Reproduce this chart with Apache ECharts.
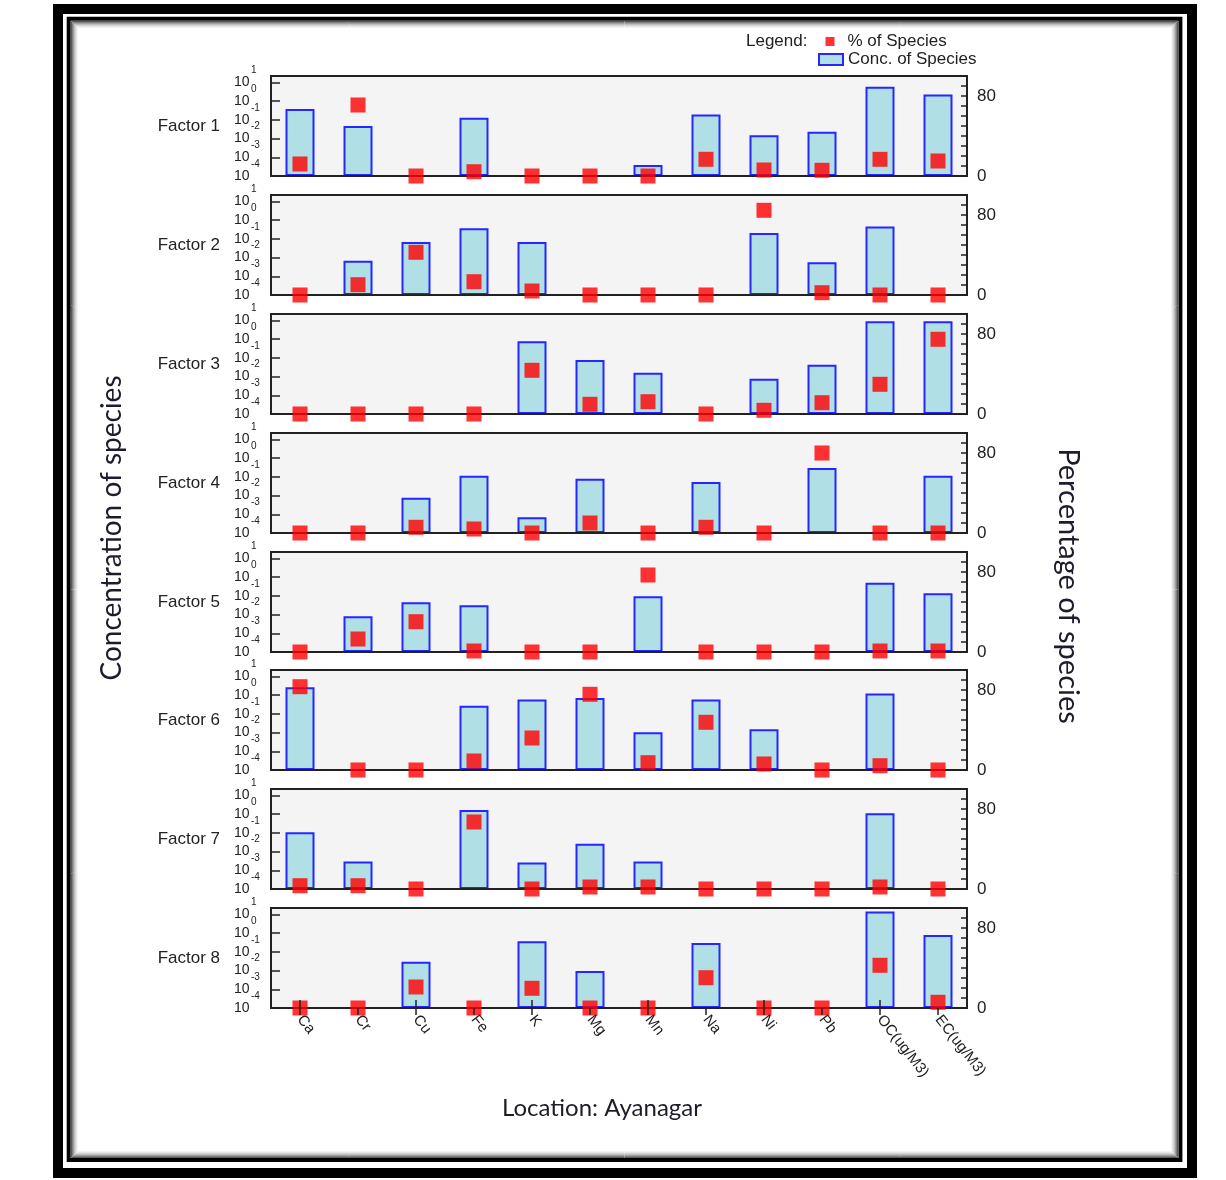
<!DOCTYPE html>
<html><head><meta charset="utf-8">
<script src="https://cdn.jsdelivr.net/npm/echarts@6/dist/echarts.min.js"></script>
<style>html,body{margin:0;padding:0;background:#fff}#c{width:1226px;height:1180px}</style>
</head><body><div id="c"></div>
<script>
// ---- data ----
const categories = ['Ca','Cr','Cu','Fe','K','Mg','Mn','Na','Ni','Pb','OC(ug/M3)','EC(ug/M3)'];
const factorNames = ['Factor 1','Factor 2','Factor 3','Factor 4','Factor 5','Factor 6','Factor 7','Factor 8'];
// Conc. of Species (null = no bar)
const conc1 = [0.39, 0.048, null, 0.13, null, null, 0.00039, 0.195, 0.015, 0.023, 5.9, 2.3];
const conc2 = [null, 0.0069, 0.069, 0.37, 0.069, null, null, null, 0.21, 0.0056, 0.46, null];
const conc3 = [null, null, null, null, 0.78, 0.078, 0.016, null, 0.0078, 0.043, 9.2, 9.2];
const conc4 = [null, null, 0.0078, 0.117, 0.00069, 0.081, null, 0.054, null, 0.30, null, 0.117];
const conc5 = [null, 0.0081, 0.046, 0.032, null, null, 0.095, null, null, null, 0.51, 0.14];
const conc6 = [2.7, null, null, 0.27, 0.59, 0.72, 0.0105, 0.59, 0.015, null, 1.23, null];
const conc7 = [0.11, 0.003, null, 1.7, 0.0026, 0.026, 0.003, null, null, null, 1.13, null];
const conc8 = [null, null, 0.030, null, 0.37, 0.0095, null, 0.30, null, null, 14.5, 0.81];
// % of Species
const pct1 = [12, 71, 0, 4.3, 0, 0, 0, 16.7, 6, 5.7, 16.7, 15];
const pct2 = [0, 10.3, 42.7, 13.3, 4, 0, 0, 0, 84.7, 2.3, 0, 0];
const pct3 = [0, 0, 0, 0, 43.7, 9.7, 12.3, 0, 3.7, 11.3, 29.7, 74.7];
const pct4 = [0, 0, 5.7, 4, 0, 10, 0, 5.7, 0, 80, 0, 0];
const pct5 = [0, 13, 30.3, 1, 0, 0, 77, 0, 0, 0, 1, 1];
const pct6 = [83.3, 0, 0, 9, 32, 75.7, 7.3, 47.7, 6, 0, 4.3, 0];
const pct7 = [3.3, 3.3, 0, 67, 0, 2, 2, 0, 0, 0, 2, 0];
const pct8 = [0, 0, 21, 0, 19.7, 0, 0, 30.3, 0, 0, 42.7, 5.7];
// tick labels
const leftExponents = [-4, -3, -2, -1, 0, 1];
const rightTickLabels = [0, 80];

const concData = [conc1, conc2, conc3, conc4, conc5, conc6, conc7, conc8];
const pctData = [pct1, pct2, pct3, pct4, pct5, pct6, pct7, pct8];

// ---- layout ----
const FONT = 'Liberation Sans';
const TITLE_FONT = 'Lato';
const gridLeft = 271, gridWidth = 696, gridHeight = 100;
const gridTops = [76, 195, 314, 433, 552, 670, 789, 908];
const nameShift = [-3, -5, -2, 8, 1, 1, 3, -7];
const minExp = leftExponents[0];
const axisTop = 5.35; // decades shown above 10^-4

function expOf(v) {
  const r = Math.round(v);
  if (Math.abs(v - r) > 1e-6) return null;
  const e = r + minExp;
  return leftExponents.indexOf(e) >= 0 ? e : null;
}

const grids = [], xAxes = [], yAxes = [], series = [];
factorNames.forEach((fname, i) => {
  grids.push({left: gridLeft, top: gridTops[i], width: gridWidth, height: gridHeight,
    show: true, backgroundColor: '#f4f4f4', borderColor: '#222', borderWidth: 2});
  xAxes.push({type: 'category', gridIndex: i, position: 'bottom', data: categories, boundaryGap: true, z: 3,
    axisLine: {show: true, lineStyle: {color: '#222', width: 2}},
    axisTick: {show: false}, axisLabel: {show: false}, splitLine: {show: false}});
  const d = nameShift[i];
  // left concentration axis: "10" base labels
  yAxes.push({type: 'value', gridIndex: i, position: 'left', offset: 0, min: 0, max: axisTop, interval: 1, z: 3,
    name: fname, nameLocation: 'middle', nameRotate: 0, nameGap: 51,
    nameTextStyle: {fontFamily: FONT, fontSize: 17, color: '#222',
      padding: d >= 0 ? [2 * d, 0, 0, 0] : [0, 0, -2 * d, 0]},
    axisLine: {show: true, lineStyle: {color: '#222', width: 2}},
    axisTick: {show: true, inside: true, length: 9, lineStyle: {color: '#222', width: 1.5}},
    splitLine: {show: false},
    axisLabel: {align: 'left', margin: 37, showMinLabel: true, showMaxLabel: true,
      fontFamily: FONT, fontSize: 14, lineHeight: 14, color: '#222',
      formatter: v => expOf(v) === null ? '' : '10'}
  });
  // same scale, carries the exponent (superscript) labels
  yAxes.push({type: 'value', gridIndex: i, position: 'left', offset: 0, min: 0, max: axisTop, interval: 1, z: 3,
    axisLine: {show: false}, axisTick: {show: false}, splitLine: {show: false},
    axisLabel: {align: 'left', margin: 20, verticalAlign: 'bottom', padding: [0, 0, 7, 0],
      showMinLabel: true, showMaxLabel: true,
      fontFamily: FONT, fontSize: 10, lineHeight: 10, color: '#222',
      formatter: v => { const e = expOf(v); return e === null ? '' : String(e); }}
  });
  yAxes.push({type: 'value', gridIndex: i, position: 'right', min: 0, max: 100, interval: 10, z: 3,
    axisLine: {show: true, lineStyle: {color: '#222', width: 2}},
    axisTick: {show: true, inside: true, length: 6, lineStyle: {color: '#222', width: 1.5}},
    splitLine: {show: false},
    axisLabel: {margin: 10, fontFamily: FONT, fontSize: 17, color: '#222', showMinLabel: true,
      formatter: v => rightTickLabels.indexOf(v) >= 0 ? String(v) : ''}
  });
  series.push({type: 'bar', name: 'Conc. of Species', xAxisIndex: i, yAxisIndex: 3 * i, z: 2,
    barWidth: '50%',
    itemStyle: {color: '#b0dfe5', borderColor: '#2626ff', borderWidth: 2},
    data: concData[i].map(v => v == null ? '-' : Math.log10(v) - minExp)});
  series.push({type: 'scatter', name: '% of Species', xAxisIndex: i, yAxisIndex: 3 * i + 2, z: 4,
    symbol: 'rect', symbolSize: 15, clip: false,
    itemStyle: {color: '#ff0000'},
    data: pctData[i]});
});
// bottom axis: crossing ticks + rotated labels
const last = factorNames.length - 1;
xAxes.push({type: 'category', gridIndex: last, position: 'bottom', offset: 0, data: categories, boundaryGap: true, z: 6,
  axisLine: {show: false}, axisLabel: {show: false},
  axisTick: {show: true, inside: true, alignWithLabel: true, length: 8, lineStyle: {color: '#222', width: 1.5}}});
xAxes.push({type: 'category', gridIndex: last, position: 'bottom', offset: 0, data: categories, boundaryGap: true, z: 6,
  axisLine: {show: false},
  axisTick: {show: true, inside: false, alignWithLabel: true, length: 7, lineStyle: {color: '#222', width: 1.5}},
  axisLabel: {show: true, interval: 0, rotate: -52, margin: 9, fontFamily: FONT, fontSize: 15, color: '#222'}});

// frame
const graphic = [
  {type: 'rect', shape: {x: 58, y: 9, width: 1134, height: 1164}, style: {fill: null, stroke: '#000', lineWidth: 10}, silent: true},
  {type: 'rect', shape: {x: 68.7, y: 18.7, width: 1111.7, height: 1141.2}, style: {fill: null, stroke: '#000', lineWidth: 4}, silent: true}
];
['#5a5a5a', '#808080', '#a0a0a0', '#bdbdbd', '#d4d4d4', '#e6e6e6', '#f3f3f3'].forEach((c, k) => {
  graphic.push({type: 'rect', shape: {x: 71.5 + k, y: 21.5 + k, width: 1106 - 2 * k, height: 1136 - 2 * k},
    style: {fill: null, stroke: c, lineWidth: 1}, silent: true});
});
graphic.push(
  {type: 'text', x: 746, y: 41, style: {text: 'Legend:', font: '17px "' + FONT + '"', fill: '#222', verticalAlign: 'middle'}},
  {type: 'text', x: 112, y: 528, rotation: Math.PI / 2,
    style: {text: 'Concentration of species', font: '28px "' + TITLE_FONT + '"', fill: '#1c1c2c', align: 'center', verticalAlign: 'middle'}},
  {type: 'text', x: 1068, y: 586, rotation: -Math.PI / 2,
    style: {text: 'Percentage of species', font: '29px "' + TITLE_FONT + '"', fill: '#1c1c2c', align: 'center', verticalAlign: 'middle'}},
  {type: 'text', x: 602, y: 1108,
    style: {text: 'Location: Ayanagar', font: '24px "' + TITLE_FONT + '"', fill: '#1c1c2c', align: 'center', verticalAlign: 'middle'}}
);

const option = {
  backgroundColor: '#fff',
  animation: false,
  legend: [
    {data: [{name: '% of Species', icon: 'rect'}], orient: 'vertical', left: 825.5, top: 33, padding: 0,
      itemWidth: 9, itemHeight: 9, textStyle: {fontFamily: FONT, fontSize: 17, color: '#222', padding: [0, 0, 0, 8]}},
    {data: [{name: 'Conc. of Species', icon: 'rect'}], orient: 'vertical', left: 818, top: 51, padding: 0,
      itemWidth: 24, itemHeight: 11, textStyle: {fontFamily: FONT, fontSize: 17, color: '#222'}}
  ],
  grid: grids, xAxis: xAxes, yAxis: yAxes, series: series, graphic: graphic
};
const chart = echarts.init(document.getElementById('c'), null, {renderer: 'canvas'});
chart.setOption(option);
</script></body></html>
